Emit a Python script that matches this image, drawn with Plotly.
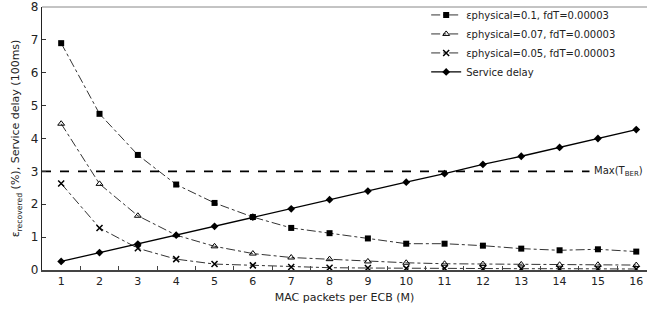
import plotly.graph_objects as go

M = list(range(1, 17))
eps_01 = [6.9, 4.75, 3.5, 2.6, 2.04, 1.61, 1.28, 1.12, 0.96, 0.8, 0.8, 0.74, 0.65, 0.6, 0.63, 0.56]
eps_007 = [4.45, 2.62, 1.65, 1.06, 0.72, 0.5, 0.38, 0.33, 0.26, 0.22, 0.19, 0.18, 0.17, 0.16, 0.16, 0.15]
eps_005 = [2.63, 1.28, 0.66, 0.33, 0.18, 0.14, 0.09, 0.07, 0.06, 0.05, 0.05, 0.04, 0.04, 0.04, 0.04, 0.03]
service_delay = [0.26, 0.53, 0.79, 1.06, 1.33, 1.61, 1.86, 2.14, 2.4, 2.67, 2.93, 3.21, 3.46, 3.73, 4.0, 4.27]
max_tber = 3
max_line_x = [0.5, 14.78]
y_ticks = [0, 1, 2, 3, 4, 5, 6, 7, 8]

names = ["εphysical=0.1, fdT=0.00003", "εphysical=0.07, fdT=0.00003",
         "εphysical=0.05, fdT=0.00003", "Service delay"]

fig = go.Figure()
fig.add_trace(go.Scatter(x=M, y=eps_01, name=names[0], mode="lines+markers",
                         line=dict(color="#333", width=1, dash="dashdot"),
                         marker=dict(symbol="square", size=6, color="black")))
fig.add_trace(go.Scatter(x=M, y=eps_007, name=names[1], mode="lines+markers",
                         line=dict(color="#333", width=1, dash="dashdot"),
                         marker=dict(symbol="triangle-up-open", size=6, color="black", line=dict(width=1))))
fig.add_trace(go.Scatter(x=M, y=eps_005, name=names[2], mode="lines+markers",
                         line=dict(color="#333", width=1, dash="dashdot"),
                         marker=dict(symbol="x-thin-open", size=6, color="black", line=dict(width=1.5))))
fig.add_trace(go.Scatter(x=M, y=service_delay, name=names[3], mode="lines+markers",
                         line=dict(color="black", width=1.3),
                         marker=dict(symbol="diamond", size=6, color="black")))
fig.add_trace(go.Scatter(x=max_line_x, y=[max_tber, max_tber], mode="lines", showlegend=False,
                         line=dict(color="black", width=1.6, dash="dash"), hoverinfo="skip"))

fig.add_annotation(x=max_line_x[1], y=max_tber, xref="x", yref="y", xanchor="left", yanchor="middle",
                   xshift=3, text="Max(T<sub>BER</sub>)", showarrow=False,
                   font=dict(size=10, color="#222"))

fig.add_shape(type="line", xref="paper", yref="paper", x0=0, x1=1, y0=1, y1=1,
              line=dict(color="#888", width=1))

fig.update_layout(
    width=647, height=320,
    margin=dict(l=42, r=0, t=7, b=50),
    paper_bgcolor="white", plot_bgcolor="white",
    font=dict(family="DejaVu Sans, Verdana, sans-serif", size=11, color="#222"),
    legend=dict(x=0.635, y=1.025, xanchor="left", yanchor="top", bgcolor="rgba(0,0,0,0)",
                font=dict(size=10), itemwidth=30, tracegroupgap=0),
    showlegend=True,
)
fig.update_xaxes(range=[0.5, 16.28], tickmode="array", tickvals=M, ticks="", showgrid=False,
                 showline=True, linecolor="#444", linewidth=1.5, zeroline=False, automargin=False,
                 tickfont=dict(size=11),
                 title=dict(text="MAC packets per ECB (M)", font=dict(size=11), standoff=6),
                 minor=dict(tickvals=[m + 0.5 for m in M], ticks="inside", ticklen=4, tickcolor="#444"))
fig.update_yaxes(range=[0, 8], tickvals=y_ticks, ticks="inside", ticklen=4, tickcolor="#333",
                 showgrid=False, showline=True, linecolor="#222", linewidth=1.3, zeroline=False,
                 automargin=False, tickfont=dict(size=12),
                 title=dict(text="ε<sub>recovered</sub> (%), Service delay (100ms)", font=dict(size=11), standoff=8))

fig.write_html("out.html", config={"displayModeBar": False},
               post_script="document.body.style.margin='0';")
